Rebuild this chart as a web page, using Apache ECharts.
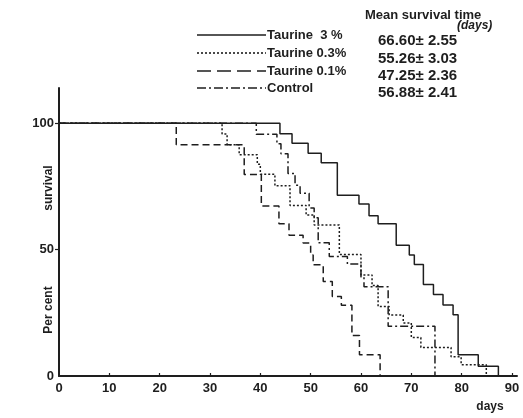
<!DOCTYPE html>
<html><head><meta charset="utf-8">
<script src="https://cdn.jsdelivr.net/npm/echarts@6/dist/echarts.min.js"></script>
<style>html,body{margin:0;padding:0;background:#fff}#c{width:523px;height:418px}</style>
</head><body><div id="c"></div>
<script>
// Kaplan-Meier style survival steps: [day, percent surviving after the drop]
const taurine3 = [[0,100],[43.9,95.9],[46.3,92.1],[49.5,88.2],[52.1,84.4],[55.3,71.5],[59.6,68.1],[61.6,63.4],[63.4,60.3],[67.0,51.8],[69.6,47.9],[70.6,44.1],[72.4,36.2],[74.4,32.3],[76.3,28.1],[78.3,24.2],[79.3,8.4],[83.3,3.9],[87.3,0]];
const taurine03 = [[0,100],[32.4,95.8],[33.4,91.5],[35.8,87.6],[39.4,83.8],[40.0,79.9],[42.9,75.3],[45.9,67.5],[49.1,63.7],[50.7,59.8],[55.7,48.1],[60.0,40.0],[62.2,35.8],[63.4,27.5],[65.6,24.1],[68.4,21.0],[70.0,15.2],[71.9,11.3],[77.9,7.6],[79.9,4.5],[84.9,0]];
const taurine01 = [[0,100],[23.3,91.5],[36.8,79.8],[40.2,67.3],[43.7,60.3],[45.7,55.7],[48.5,52.6],[50.0,47.9],[50.5,44.0],[52.5,37.4],[54.3,31.5],[56.1,28.0],[58.2,16.0],[59.7,8.4],[63.8,0]];
const control = [[0,100],[39.2,95.7],[43.3,91.9],[44.1,88.0],[45.5,80.2],[46.9,75.5],[47.9,72.3],[49.7,66.5],[50.7,62.6],[51.5,52.7],[53.7,47.3],[57.3,44.3],[60.0,39.2],[60.6,35.3],[65.4,19.7],[74.7,0]];

const seriesNames = ['Taurine  3 %','Taurine 0.3%','Taurine 0.1%','Control'];
const meanTimes = ['66.60± 2.55','55.26± 3.03','47.25± 2.36','56.88± 2.41'];
const xTicks = [0,10,20,30,40,50,60,70,80,90];
const yTicks = [0,50,100];

const ink = '#1e1e1e';
const dashes = ['solid',[2,2],[7,4],[8,3,2,3]];
const legendDashes = [null,[2,2],[14,6],[9,3,2,3]];
const dataSets = [taurine3,taurine03,taurine01,control];

const chart = echarts.init(document.getElementById('c'));
const font = 'Liberation Sans';

const graphic = [];
const legY = [35,53,71,88];
const valY = [41,59,76,93];
for (let i=0;i<4;i++){
  graphic.push({type:'line',shape:{x1:197,y1:legY[i],x2:266,y2:legY[i]},
    style:{stroke:ink,lineWidth:1.6,lineDash:legendDashes[i]}});
  graphic.push({type:'text',x:267,y:legY[i],style:{text:seriesNames[i],fill:ink,
    font:'bold 13px "'+font+'"',textVerticalAlign:'middle',textAlign:'left'}});
  graphic.push({type:'text',x:378,y:valY[i],style:{text:meanTimes[i],fill:ink,
    font:'bold 15px "'+font+'"',textVerticalAlign:'middle',textAlign:'left'}});
}
graphic.push({type:'text',x:365,y:15,style:{text:'Mean survival time',fill:ink,font:'bold 13px "'+font+'"',textVerticalAlign:'middle'}});
graphic.push({type:'text',x:457,y:26,style:{text:'(days)',fill:ink,font:'italic bold 12px "'+font+'"',textVerticalAlign:'middle'}});
graphic.push({type:'text',x:49,y:188,rotation:Math.PI/2,style:{text:'survival',fill:ink,font:'bold 12px "'+font+'"',textAlign:'center',textVerticalAlign:'middle'}});
graphic.push({type:'text',x:49,y:310,rotation:Math.PI/2,style:{text:'Per cent',fill:ink,font:'bold 12px "'+font+'"',textAlign:'center',textVerticalAlign:'middle'}});
graphic.push({type:'text',x:490,y:407,style:{text:'days',fill:ink,font:'bold 12px "'+font+'"',textAlign:'center',textVerticalAlign:'middle'}});

chart.setOption({
  animation:false,
  backgroundColor:'#fff',
  grid:{left:59,top:88,width:458,height:288},
  xAxis:{type:'value',min:0,max:91,interval:10,
    axisLine:{lineStyle:{color:ink,width:2}},
    axisTick:{inside:true,length:3,lineStyle:{color:ink,width:1.2},customValues:xTicks.slice(1)},
    axisLabel:{customValues:xTicks,color:ink,fontFamily:font,fontWeight:'bold',fontSize:13,margin:6},
    splitLine:{show:false}},
  yAxis:{type:'value',min:0,max:114,interval:50,
    axisLine:{show:true,lineStyle:{color:ink,width:2}},
    axisTick:{show:true,length:4,lineStyle:{color:ink,width:1.2},customValues:[50,100]},
    axisLabel:{customValues:yTicks,color:ink,fontFamily:font,fontWeight:'bold',fontSize:13,margin:5},
    splitLine:{show:false}},
  series:dataSets.map((d,i)=>({type:'line',name:seriesNames[i],step:'end',data:d,showSymbol:false,symbol:'none',
    lineStyle:{color:ink,width:1.5,type:dashes[i]},z:3})),
  graphic:graphic
});
</script></body></html>
